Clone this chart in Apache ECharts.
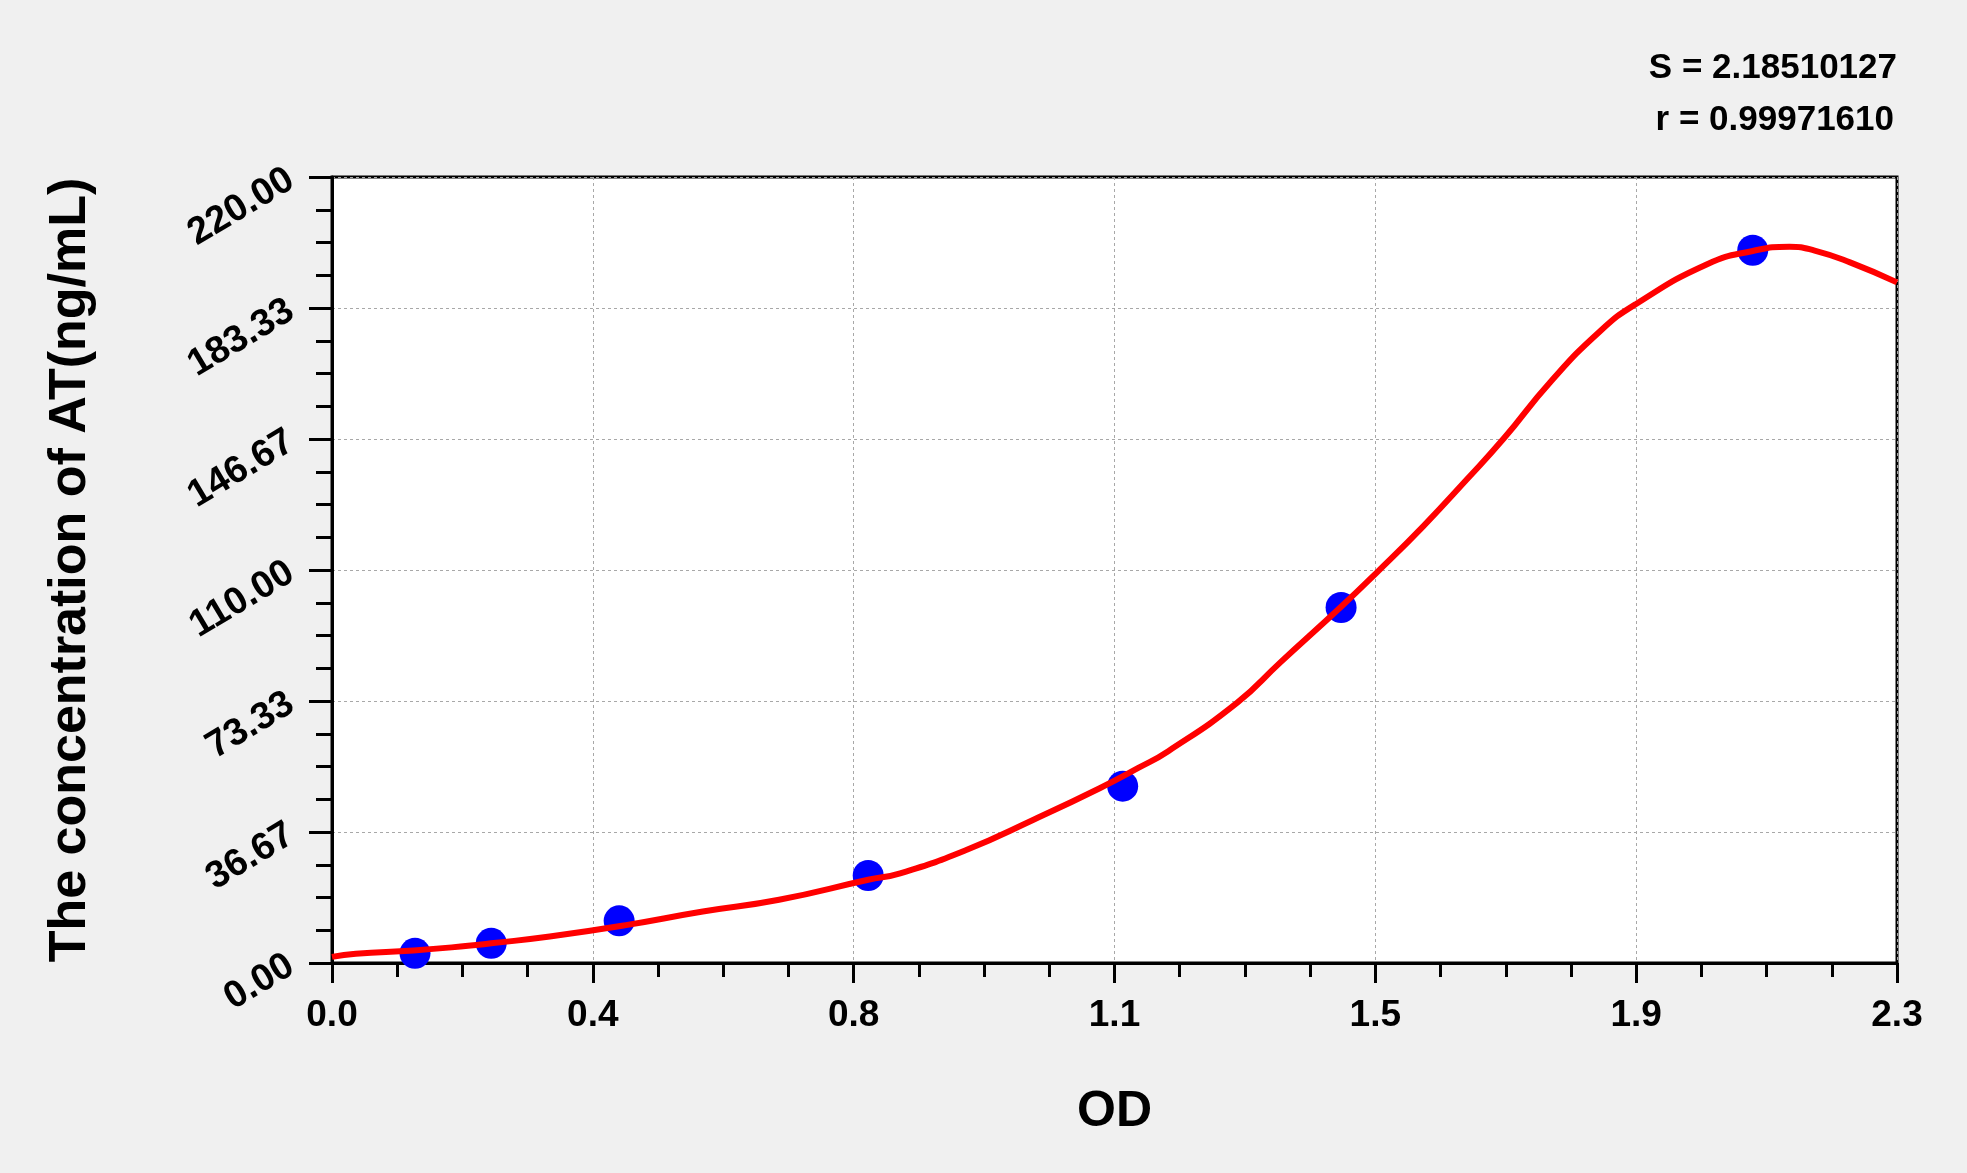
<!DOCTYPE html>
<html>
<head>
<meta charset="utf-8">
<script src="https://cdn.jsdelivr.net/npm/echarts@6/dist/echarts.min.js"></script>
<style>
html,body{margin:0;padding:0;background:#f0f0f0;}
#chart{width:1967px;height:1173px;}
</style>
</head>
<body>
<div id="chart"></div>
<script>
// Measured standard points (OD, concentration)
const pointOD   = [0.122, 0.234, 0.422, 0.788, 1.162, 1.483, 2.088];
const pointConc = [2.7, 5.5, 11.8, 24.5, 49.5, 99.5, 199.5];

// Fitted curve
const curveOD   = [0.00, 0.035, 0.12, 0.20, 0.234, 0.32, 0.432, 0.545, 0.657, 0.788, 0.835, 0.933, 1.031, 1.129, 1.185, 1.229, 1.330, 1.393, 1.483, 1.535, 1.604, 1.668, 1.722, 1.790, 1.864, 1.916, 2.021, 2.088, 2.142, 2.179, 2.231, 2.300];
const curveConc = [1.7, 2.6, 3.5, 4.8, 5.5, 7.4, 10.6, 14.4, 17.7, 23.3, 25.1, 31.7, 40.1, 49.0, 54.6, 59.3, 72.8, 84.0, 99.7, 109.2, 122.3, 135.4, 146.8, 162.5, 176.9, 184.4, 195.6, 199.3, 200.5, 199.4, 196.1, 190.5];

const xTickLabels = ['0.0', '0.4', '0.8', '1.1', '1.5', '1.9', '2.3'];
const yTickLabels = ['0.00', '36.67', '73.33', '110.00', '146.67', '183.33', '220.00'];
const xMax = 2.3, yMax = 220;
const statLines = ['S = 2.18510127', 'r = 0.99971610'];

const arial = "'Liberation Sans',Arial,sans-serif";

const xInterval = xMax / 6, yInterval = yMax / 6;
const chart = echarts.init(document.getElementById('chart'));
chart.setOption({
  backgroundColor: '#f0f0f0',
  animation: false,
  grid: {left: 332, top: 177, right: 70, bottom: 210, show: true, backgroundColor: '#ffffff', borderColor: '#000', borderWidth: 3},
  graphic: [
    {type: 'text', right: 70, top: 51, style: {text: statLines[0], font: 'bold 35px ' + arial, fill: '#000', textAlign: 'right'}},
    {type: 'text', right: 73, top: 103, style: {text: statLines[1], font: 'bold 35px ' + arial, fill: '#000', textAlign: 'right'}}
  ],
  xAxis: {
    type: 'value', min: 0, max: xMax, interval: xInterval,
    name: 'OD', nameLocation: 'middle', nameGap: 124,
    nameTextStyle: {fontFamily: arial, fontWeight: 'bold', fontSize: 50, color: '#000'},
    axisLine: {lineStyle: {color: '#000', width: 3}},
    axisTick: {show: true, length: 20, lineStyle: {color: '#000', width: 3}},
    minorTick: {show: true, splitNumber: 4, length: 14, lineStyle: {color: '#000', width: 3}},
    axisLabel: {margin: 34, fontFamily: arial, fontWeight: 'bold', fontSize: 37, color: '#000',
      formatter: v => xTickLabels[Math.round(v / xInterval)]},
    splitLine: {show: true, lineStyle: {color: '#a8a8a8', width: 1, type: [3, 3]}}
  },
  yAxis: {
    type: 'value', min: 0, max: yMax, interval: yInterval,
    name: 'The concentration of AT(ng/mL)', nameLocation: 'middle', nameGap: 235,
    nameTextStyle: {fontFamily: arial, fontWeight: 'bold', fontSize: 52, color: '#000'},
    axisLine: {lineStyle: {color: '#000', width: 3}},
    axisTick: {show: true, length: 23, lineStyle: {color: '#000', width: 3}},
    minorTick: {show: true, splitNumber: 4, length: 16, lineStyle: {color: '#000', width: 3}},
    axisLabel: {margin: 41, rotate: 31, fontFamily: arial, fontWeight: 'bold', fontSize: 38, color: '#000',
      formatter: v => yTickLabels[Math.round(v / yInterval)]},
    splitLine: {show: true, lineStyle: {color: '#a8a8a8', width: 1, type: [3, 3]}}
  },
  series: [
    {type: 'line', data: curveOD.map((x, i) => [x, curveConc[i]]), smooth: 0.5, showSymbol: false,
     lineStyle: {color: '#ff0000', width: 6}, z: 3},
    {type: 'scatter', data: pointOD.map((x, i) => [x, pointConc[i]]), symbol: 'circle', symbolSize: 31,
     itemStyle: {color: '#0000ff', opacity: 1}, z: 2}
  ]
});
</script>
</body>
</html>
